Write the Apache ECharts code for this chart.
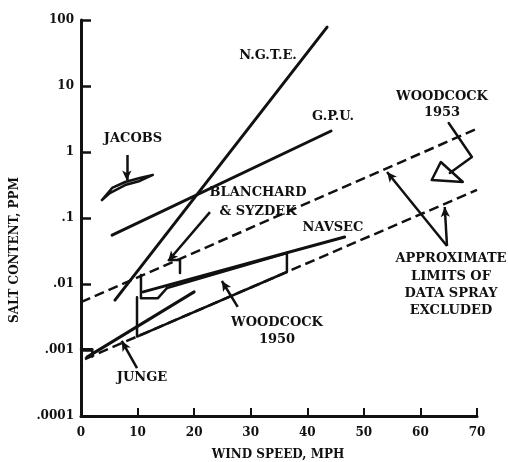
<!DOCTYPE html>
<html><head><meta charset="utf-8">
<script src="https://cdn.jsdelivr.net/npm/echarts@6/dist/echarts.min.js"></script>
<style>html,body{margin:0;padding:0;background:#fff}#c{width:508px;height:462px}</style>
</head><body><div id="c"></div>
<script>
// ---- data (wind speed mph, salt content ppm) ----
const xTicks = [0, 10, 20, 30, 40, 50, 60, 70];
const yTickExps = [-4, -3, -2, -1, 0, 1, 2];
const yTickLabels = ['.0001', '.001', '.01', '.1', '1', '10', '100'];

const ngte = [[6.0, 0.0057], [43.5, 78]];
const gpu = [[5.5, 0.055], [44.2, 2.08]];
const jacobs = [[3.7, 0.187], [5.5, 0.285], [7.8, 0.351], [10.4, 0.404], [12.7, 0.449],
                [10.4, 0.364], [7.8, 0.316], [5.1, 0.239], [3.7, 0.187]];
const upperLimit = [[0, 0.0053], [70, 2.25]];
const lowerLimit = [[0.7, 0.00073], [70, 0.266]];
const junge = [[1.06, 0.00078], [20, 0.0076]];
const jungeBracket = [[0, 0.00103], [2, 0.00103], [2, 0.0008]];
const navsec = [[11, 0.0076], [46.6, 0.0515]];
const woodcock1950 = [[9.9, 0.0063], [9.9, 0.0016], [36.4, 0.0152], [36.4, 0.0295], [15.2, 0.0087]];
const blanchard = [[10.6, 0.0137], [10.6, 0.0061], [13.6, 0.0061], [15.2, 0.0087]];
const blanchardTick = [[15.7, 0.0231], [17.5, 0.0231], [17.5, 0.0147]];
const woodcock1953Shaft = [[65.0, 2.75], [69.1, 0.84], [65.2, 0.48]];
const woodcock1953Head = [[62.0, 0.377], [63.6, 0.705], [67.5, 0.351], [62.0, 0.377]];

// annotation arrows: [from, to]
const arrows = [
  [[8.1, 0.90], [8.1, 0.37]],        // Jacobs
  [[22.8, 0.123], [15.4, 0.0223]],   // Blanchard & Syzdek
  [[27.7, 0.00449], [24.9, 0.0111]], // Woodcock 1950
  [[9.9, 0.000533], [7.2, 0.00137]], // Junge
  [[64.7, 0.0377], [54.1, 0.497]],   // limits (upper)
  [[64.7, 0.0377], [64.3, 0.147]]    // limits (lower)
];

const FONT = 'DejaVu Serif';
const INK = '#111';

function solid(name, data, w) {
  return { name, type: 'line', data, symbol: 'none', silent: true, animation: false,
    lineStyle: { color: INK, width: w || 3, cap: 'round', join: 'round' } };
}
function dashed(name, data) {
  return { name, type: 'line', data, symbol: 'none', silent: true, animation: false,
    lineStyle: { color: INK, width: 2.5, type: [10, 5] } };
}

const series = [
  solid('N.G.T.E.', ngte),
  solid('G.P.U.', gpu),
  solid('JACOBS', jacobs, 2.5),
  dashed('upper limit', upperLimit),
  dashed('lower limit', lowerLimit),
  solid('JUNGE', junge),
  solid('JUNGE bracket', jungeBracket, 2.5),
  solid('NAVSEC', navsec),
  solid('WOODCOCK 1950', woodcock1950, 2.5),
  solid('BLANCHARD & SYZDEK', blanchard, 2.5),
  solid('BLANCHARD tick', blanchardTick, 2.5),
  solid('WOODCOCK 1953 shaft', woodcock1953Shaft, 2.5),
  solid('WOODCOCK 1953 head', woodcock1953Head, 2.5),
  { type: 'line', data: [], silent: true, animation: false,
    markLine: { silent: true, animation: false, symbol: ['none', 'arrow'], symbolSize: [7, 10],
      label: { show: false },
      lineStyle: { color: INK, width: 2.5, type: 'solid' },
      data: arrows.map(a => [{ coord: a[0] }, { coord: a[1] }]) } }
];

function label(t, x, y, rot, size) {
  return { type: 'text', x, y, rotation: rot || 0, silent: true,
    style: { text: t, fill: INK, font: 'bold ' + (size || 13) + 'px "' + FONT + '"', align: 'center', verticalAlign: 'middle' } };
}

const chart = echarts.init(document.getElementById('c'), null, { renderer: 'canvas' });
chart.setOption({
  backgroundColor: '#fff',
  animation: false,
  grid: { left: 81, right: 31, top: 20, bottom: 46, containLabel: false, outerBoundsMode: 'none' },
  xAxis: {
    type: 'value', min: 0, max: 70, interval: 10,
    axisLine: { lineStyle: { color: INK, width: 3 } },
    axisTick: { inside: true, length: 8, lineStyle: { color: INK, width: 2 } },
    axisLabel: { fontFamily: FONT, fontWeight: 'bold', fontSize: 12, color: INK, margin: 11,
      formatter: v => xTicks.includes(v) ? String(v) : '' },
    splitLine: { show: false }
  },
  yAxis: {
    type: 'log', logBase: 10, min: 0.0001, max: 100, splitNumber: 6,
    axisLine: { show: true, lineStyle: { color: INK, width: 3 } },
    axisTick: { show: true, inside: true, length: 10, lineStyle: { color: INK, width: 2.5 } },
    axisLabel: { fontFamily: FONT, fontWeight: 'bold', fontSize: 12, color: INK, margin: 7,
      formatter: v => { const e = Math.round(Math.log10(v)); const i = yTickExps.indexOf(e); return i >= 0 ? yTickLabels[i] : ''; } },
    splitLine: { show: false }
  },
  series,
  graphic: [
    label('SALT CONTENT, PPM', 15, 250, Math.PI / 2, 12),
    label('WIND SPEED, MPH', 278, 455, 0, 12),
    label('N.G.T.E.', 268, 56),
    label('G.P.U.', 333, 117),
    label('JACOBS', 133, 139),
    label('BLANCHARD', 258, 193),
    label('& SYZDEK', 258, 212),
    label('NAVSEC', 333, 228),
    label('WOODCOCK', 442, 97),
    label('1953', 442, 113),
    label('APPROXIMATE', 451, 259),
    label('LIMITS OF', 451, 277),
    label('DATA SPRAY', 451, 294),
    label('EXCLUDED', 451, 311),
    label('WOODCOCK', 277, 323),
    label('1950', 277, 340),
    label('JUNGE', 142, 378)
  ]
});
</script>
</body></html>
